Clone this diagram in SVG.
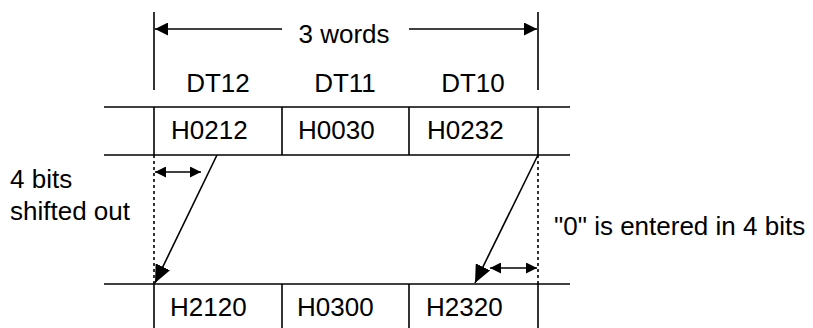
<svg xmlns="http://www.w3.org/2000/svg" width="813" height="328" viewBox="0 0 813 328">
<defs>
<style>
.ln{stroke:#000;stroke-width:1.6;fill:none}
.dot{stroke:#000;stroke-width:1.6;fill:none;stroke-dasharray:3,3}
text{font-family:"Liberation Sans",Arial,sans-serif;font-size:26px;fill:#000}
.c{text-anchor:middle}
</style>
<marker id="big" markerUnits="userSpaceOnUse" markerWidth="13" markerHeight="13" refX="13" refY="6.5" orient="auto-start-reverse" viewBox="0 0 13 13"><path d="M0,0 L13,6.5 L0,13 z" fill="#000"/></marker>
<marker id="diag" markerUnits="userSpaceOnUse" markerWidth="18" markerHeight="16" refX="18" refY="8" orient="auto" viewBox="0 0 18 16"><path d="M0,0 L18,8 L0,16 z" fill="#000"/></marker>
<marker id="sm" markerUnits="userSpaceOnUse" markerWidth="11" markerHeight="11" refX="11" refY="5.5" orient="auto-start-reverse" viewBox="0 0 11 11"><path d="M0,0 L11,5.5 L0,11 z" fill="#000"/></marker>
</defs>

<g id="span-3words">
<line class="ln" x1="154" y1="12" x2="154" y2="90"/>
<line class="ln" x1="538" y1="12" x2="538" y2="90"/>
<text class="c" x="344" y="43">3 words</text>
</g>

<g id="headers">
<text class="c" x="218" y="92">DT12</text>
<text class="c" x="345" y="92">DT11</text>
<text class="c" x="473" y="92">DT10</text>
</g>

<g id="row-before">
<line class="ln" x1="104" y1="107" x2="570" y2="107"/>
<line class="ln" x1="104" y1="155" x2="570" y2="155"/>
<line class="ln" x1="154" y1="107" x2="154" y2="155"/>
<line class="ln" x1="282" y1="107" x2="282" y2="155"/>
<line class="ln" x1="409" y1="107" x2="409" y2="155"/>
<line class="ln" x1="538" y1="107" x2="538" y2="155"/>
<text x="171" y="139">H0212</text>
<text x="298" y="139">H0030</text>
<text x="427" y="139">H0232</text>
</g>

<g id="row-after">
<line class="ln" x1="104" y1="284" x2="570" y2="284"/>
<line class="ln" x1="154" y1="284" x2="154" y2="328"/>
<line class="ln" x1="282" y1="284" x2="282" y2="328"/>
<line class="ln" x1="409" y1="284" x2="409" y2="328"/>
<line class="ln" x1="538" y1="284" x2="538" y2="328"/>
<text x="170" y="316">H2120</text>
<text x="297" y="316">H0300</text>
<text x="426" y="316">H2320</text>
</g>

<g id="label-shifted-out">
<text x="10" y="188">4 bits</text>
<text x="10" y="220">shifted out</text>
</g>

<g id="label-zero-entered">
<text x="554" y="235">"0" is entered in 4 bits</text>
</g>

<g id="connectors">
<line class="ln" x1="155" y1="29" x2="282" y2="29" marker-start="url(#big)"/>
<line class="ln" x1="409" y1="29" x2="537" y2="29" marker-end="url(#big)"/>
<line class="dot" x1="154" y1="155" x2="154" y2="284"/>
<line class="dot" x1="538" y1="155" x2="538" y2="284"/>
<line class="ln" x1="217" y1="155" x2="155" y2="283" marker-end="url(#diag)"/>
<line class="ln" x1="538" y1="155" x2="475" y2="283" marker-end="url(#diag)"/>
<line class="ln" x1="155" y1="172" x2="201" y2="172" marker-start="url(#sm)" marker-end="url(#sm)"/>
<line class="ln" x1="490" y1="268" x2="537" y2="268" marker-start="url(#sm)" marker-end="url(#sm)"/>
</g>
</svg>
